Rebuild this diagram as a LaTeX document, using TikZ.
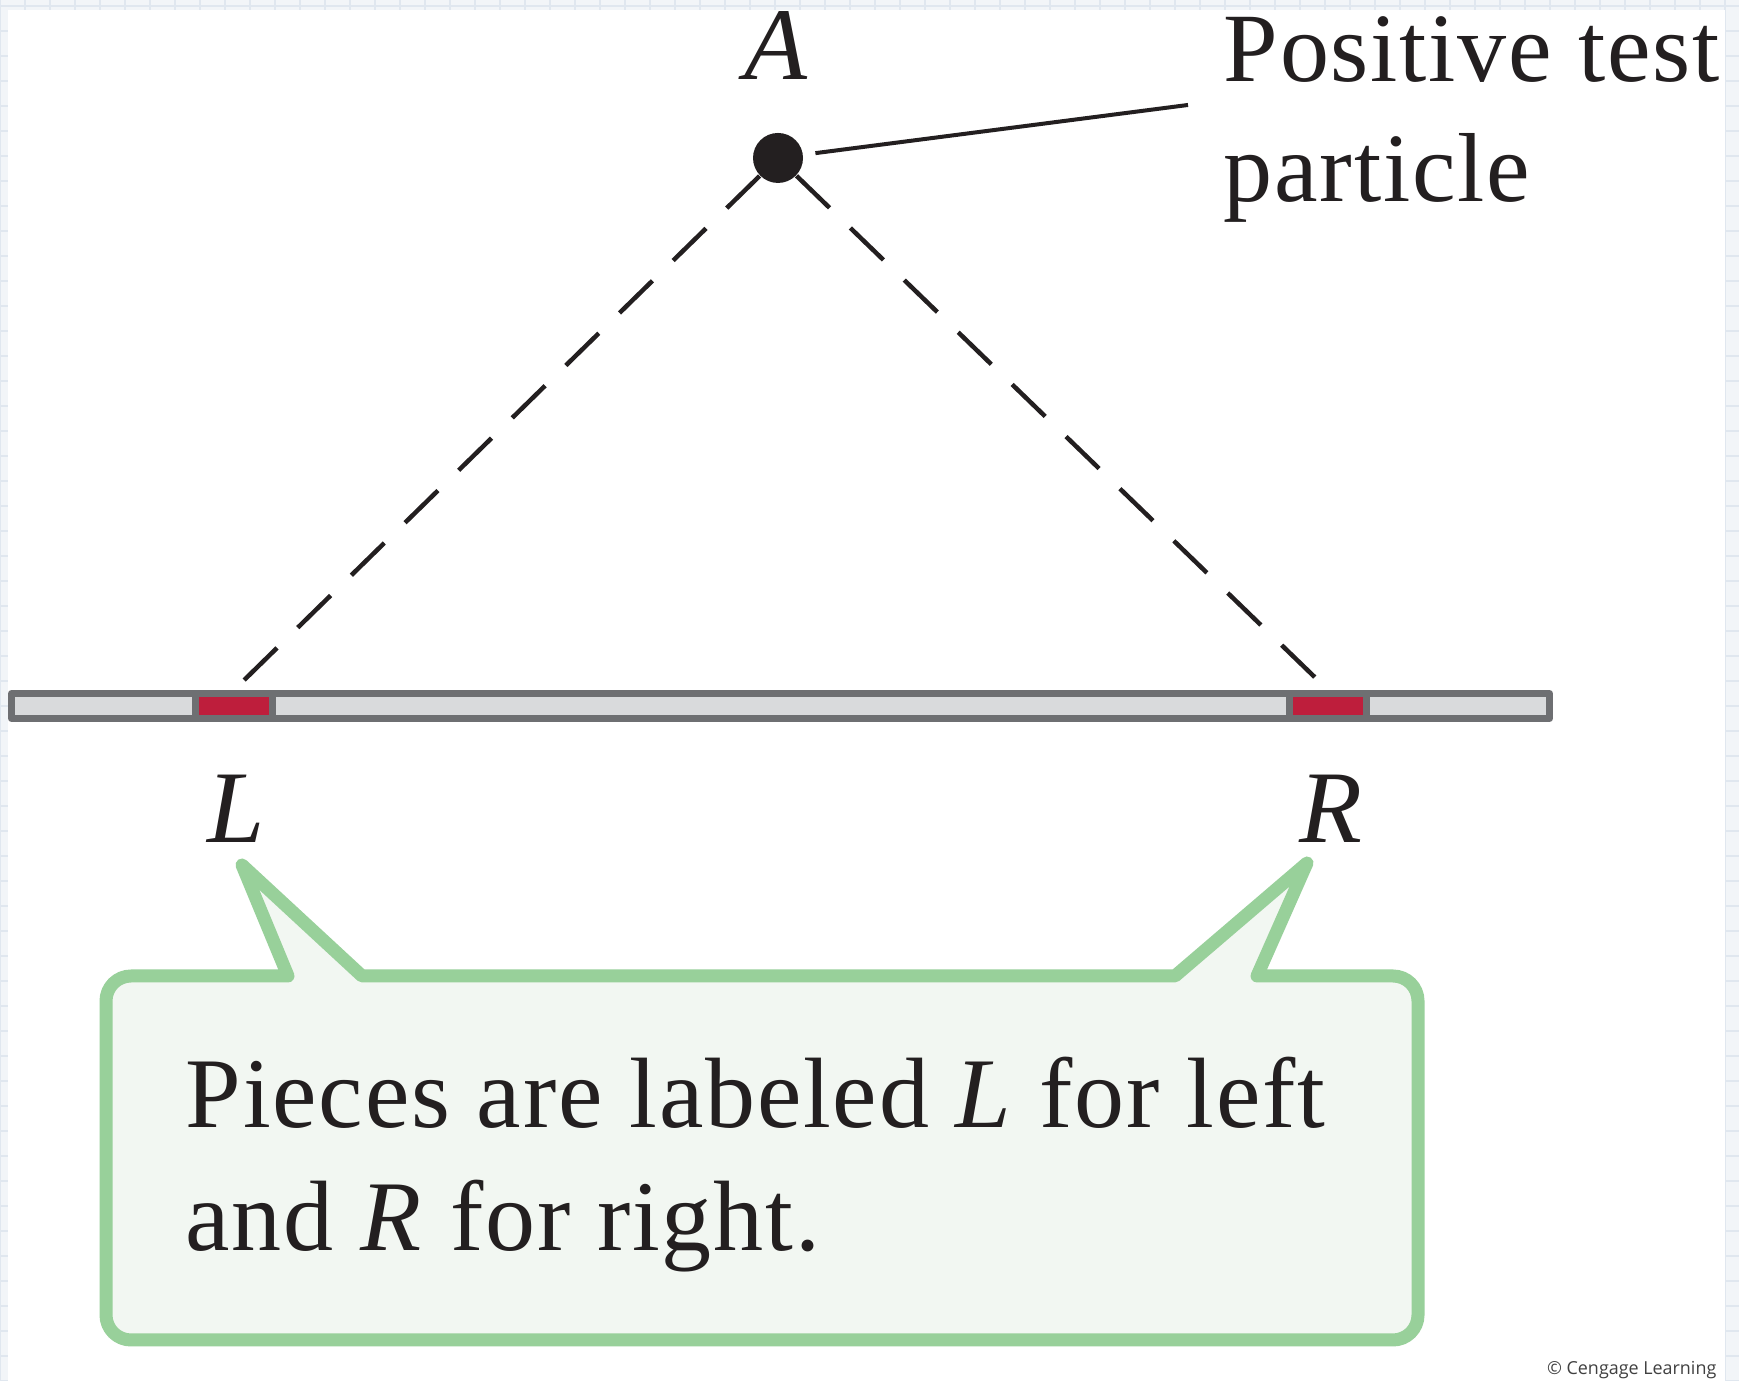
\documentclass[tikz,border=0pt]{standalone}
\usepackage{fontspec}
\setmainfont{Liberation Serif}[LetterSpace=1.8]
\newfontfamily\creditfont{Open Sans}
\definecolor{inkblack}{RGB}{35,31,32}
\definecolor{rodgray}{RGB}{110,111,114}
\definecolor{rodfill}{RGB}{217,218,220}
\definecolor{piecered}{RGB}{190,30,60}
\definecolor{calloutgreen}{RGB}{152,208,154}
\definecolor{calloutfill}{RGB}{242,247,242}
\definecolor{pageblue}{RGB}{242,245,248}
\definecolor{gridblue}{RGB}{224,231,239}
\begin{document}
\begin{tikzpicture}[x=1cm,y=1cm,line cap=round,line join=round,
  rod/.style={draw=rodgray,fill=rodfill,line width=0.07cm,minimum width=15.38cm,minimum height=0.25cm,inner sep=0pt},
  piece/.style={draw=rodgray,fill=piecered,line width=0.07cm,minimum width=0.77cm,minimum height=0.25cm,inner sep=0pt},
  particle/.style={circle,fill=inkblack,minimum size=0.5cm,inner sep=0pt},
  guide/.style={draw=inkblack,line width=0.045cm,dash pattern=on 0.46cm off 0.29cm,line cap=butt},
  leader/.style={draw=inkblack,line width=0.04cm,line cap=butt},
  callout/.style={draw=calloutgreen,fill=calloutfill,line width=0.13cm},
  lbl/.style={inner sep=0pt,anchor=base,text=inkblack,font=\fontsize{29.3}{35}\selectfont\itshape},
  note/.style={inner sep=0pt,anchor=base west,align=left,text=inkblack}]
  \useasboundingbox (0,0) rectangle (17.39,13.81);

  % Page behind the figure
  \fill[pageblue] (0,0) rectangle (17.39,13.81);
  \draw[gridblue,line width=0.4pt,step=0.25] (0,0) grid (17.39,13.81);
  \fill[white] (0.08,0) rectangle (17.25,13.71);

  % Rod with the two pieces
  \node[rod] (rod) at (7.805,6.75) {};
  \node[piece] (pieceL) at (2.34,6.75) {};
  \node[piece] (pieceR) at (13.28,6.75) {};

  % Test particle and its labels
  \node[particle] (particle) at (7.78,12.23) {};
  \node[lbl] (labelA) at (7.76,13.01) {A};
  \node[note,font=\fontsize{27.9}{34.4}\selectfont] (caption) at (12.23,11.79) {Positive test\\particle};
  \coordinate (lead) at (11.88,12.76);
  \draw[leader,shorten <=0.12cm] (particle) -- (lead);

  % Lines to the pieces
  \draw[guide] (particle) -- (pieceL.north);
  \draw[guide] (particle) -- (pieceR.north);
  \node[lbl] (labelL) at (2.36,5.38) {L};
  \node[lbl] (labelR) at (13.31,5.38) {R};

  % Callout
  \coordinate (tipL) at (2.42,5.16);
  \coordinate (tipR) at (13.07,5.18);
  \draw[callout] (2.0,4.05) -- (2.88,4.05) -- (tipL) -- (3.62,4.05) -- (11.75,4.05)
    -- (tipR) -- (12.57,4.05) -- (13.5,4.05)
    [rounded corners=0.25cm] -- (14.18,4.05) -- (14.18,0.41) -- (1.06,0.41) -- (1.06,4.05) -- cycle;
  \node[note,font=\fontsize{28.45}{35}\selectfont] (notetext) at (1.85,1.30)
    {Pieces are labeled \textit{L} for left\\and \textit{R} for right.};

  \node[anchor=base east,inner sep=0pt,text=black!75,font=\creditfont\fontsize{5.1}{6}\selectfont] (credit)
    at (17.17,0.06) {\textcopyright{} Cengage Learning};
\end{tikzpicture}
\end{document}
